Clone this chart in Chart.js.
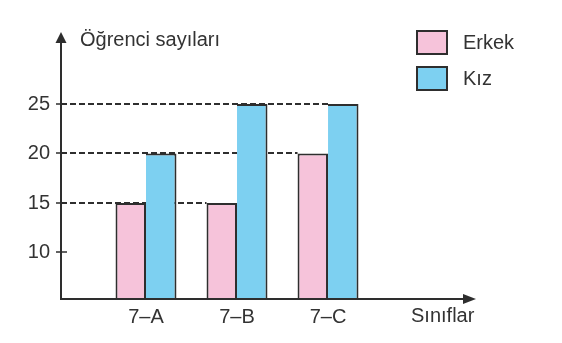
<!DOCTYPE html>
<html>
<head>
<meta charset="utf-8">
<script src="https://cdn.jsdelivr.net/npm/chart.js@4/dist/chart.umd.min.js"></script>
<style>
  html, body { margin: 0; padding: 0; background: #ffffff; }
  #wrap { width: 562px; height: 343px; }
</style>
</head>
<body>
<div id="wrap"><canvas id="c" width="562" height="343"></canvas></div>
<script>
const categories = ['7–A', '7–B', '7–C'];
const seriesNames = ['Erkek', 'Kız'];
const erkek = [15, 15, 20];
const kiz = [20, 25, 25];
const yTicks = [10, 15, 20, 25];
const yTitle = 'Öğrenci sayıları';
const xTitle = 'Sınıflar';

const INK = '#2e2e2e';
const FONT = '"Liberation Sans", Arial, Helvetica, sans-serif';
const FSIZE = 20;
const PINK = '#f6c3da';
const BLUE = '#7dd0f1';

function toPoints(arr) { return arr.map((v, i) => ({ x: i + 1, y: v })); }

const axesPlugin = {
  id: 'axesPlugin',
  beforeDatasetsDraw(chart) {
    const ctx = chart.ctx;
    const y = chart.scales.y;
    const x0 = chart.chartArea.left;
    ctx.save();
    ctx.strokeStyle = INK;
    ctx.lineWidth = 2;
    ctx.setLineDash([6, 3]);
    yTicks.forEach(v => {
      let endX = null;
      chart.data.datasets.forEach((ds, di) => {
        const meta = chart.getDatasetMeta(di);
        ds.data.forEach((p, i) => {
          if (p.y === v) {
            const bar = meta.data[i];
            const left = bar.x - bar.width / 2;
            if (endX === null || left > endX) endX = left;
          }
        });
      });
      if (endX !== null) {
        const py = Math.round(y.getPixelForValue(v));
        ctx.beginPath();
        ctx.moveTo(x0, py);
        ctx.lineTo(endX, py);
        ctx.stroke();
      }
    });
    ctx.restore();
  },
  afterDatasetsDraw(chart) {
    const ctx = chart.ctx;
    const ca = chart.chartArea;
    const y = chart.scales.y;
    const ax = ca.left;
    const ay = ca.bottom;
    ctx.save();
    ctx.strokeStyle = INK;
    ctx.fillStyle = INK;
    ctx.lineWidth = 2;
    ctx.setLineDash([]);
    ctx.beginPath();
    ctx.moveTo(ax, ay + 1);
    ctx.lineTo(ax, ca.top + 4);
    ctx.stroke();
    ctx.beginPath();
    ctx.moveTo(ax, ca.top - 4);
    ctx.lineTo(ax - 5.5, ca.top + 7);
    ctx.lineTo(ax + 5.5, ca.top + 7);
    ctx.closePath();
    ctx.fill();
    ctx.beginPath();
    ctx.moveTo(ax - 1, ay);
    ctx.lineTo(ca.right - 6, ay);
    ctx.stroke();
    ctx.beginPath();
    ctx.moveTo(ca.right, ay);
    ctx.lineTo(ca.right - 13, ay - 5);
    ctx.lineTo(ca.right - 13, ay + 5);
    ctx.closePath();
    ctx.fill();
    ctx.lineWidth = 1.5;
    yTicks.forEach(v => {
      const py = Math.round(y.getPixelForValue(v));
      ctx.beginPath();
      ctx.moveTo(ax - 5, py);
      ctx.lineTo(ax + 6, py);
      ctx.stroke();
    });
    ctx.font = FSIZE + 'px ' + FONT;
    ctx.fillStyle = '#333333';
    ctx.textAlign = 'left';
    ctx.textBaseline = 'alphabetic';
    ctx.fillText(yTitle, 80, 46);
    ctx.fillText(xTitle, 411, 322);
    const boxes = [
      { label: chart.data.datasets[0].label, color: chart.data.datasets[0].backgroundColor, top: 31 },
      { label: chart.data.datasets[1].label, color: chart.data.datasets[1].backgroundColor, top: 67 }
    ];
    boxes.forEach(b => {
      ctx.fillStyle = b.color;
      ctx.fillRect(417, b.top, 30, 23);
      ctx.strokeStyle = INK;
      ctx.lineWidth = 2;
      ctx.strokeRect(417, b.top, 30, 23);
      ctx.fillStyle = '#333333';
      ctx.textBaseline = 'middle';
      ctx.fillText(b.label, 463, b.top + 12);
    });
    ctx.restore();
  }
};

new Chart(document.getElementById('c'), {
  type: 'bar',
  data: {
    datasets: [
      {
        label: seriesNames[0],
        data: toPoints(erkek),
        backgroundColor: PINK,
        borderColor: INK,
        borderWidth: 2,
        borderSkipped: false
      },
      {
        label: seriesNames[1],
        data: toPoints(kiz),
        backgroundColor: BLUE,
        borderColor: INK,
        borderWidth: 2,
        borderSkipped: 'left'
      }
    ]
  },
  options: {
    responsive: false,
    animation: false,
    devicePixelRatio: 1,
    categoryPercentage: 0.67,
    barPercentage: 1,
    layout: { padding: { top: 36, right: 86, bottom: 0, left: 0 } },
    plugins: { legend: { display: false }, tooltip: { enabled: false } },
    scales: {
      x: {
        type: 'linear',
        offset: false,
        min: 0.066,
        max: 4.626,
        grid: { display: false, drawTicks: false, offset: false },
        border: { display: false },
        afterBuildTicks(scale) { scale.ticks = categories.map((c, i) => ({ value: i + 1 })); },
        afterFit(scale) { scale.height = 44; },
        ticks: {
          autoSkip: false,
          maxRotation: 0,
          padding: 6,
          color: '#333333',
          font: { family: FONT, size: FSIZE },
          callback: (v) => categories[Math.round(v) - 1]
        }
      },
      y: {
        type: 'linear',
        min: 5.3,
        max: 31.87,
        grid: { display: false, drawTicks: false },
        border: { display: false },
        afterBuildTicks(scale) { scale.ticks = yTicks.map(v => ({ value: v })); },
        afterFit(scale) { scale.width = 61; },
        ticks: {
          padding: 11,
          color: '#333333',
          font: { family: FONT, size: FSIZE }
        }
      }
    }
  },
  plugins: [axesPlugin]
});
</script>
</body>
</html>
